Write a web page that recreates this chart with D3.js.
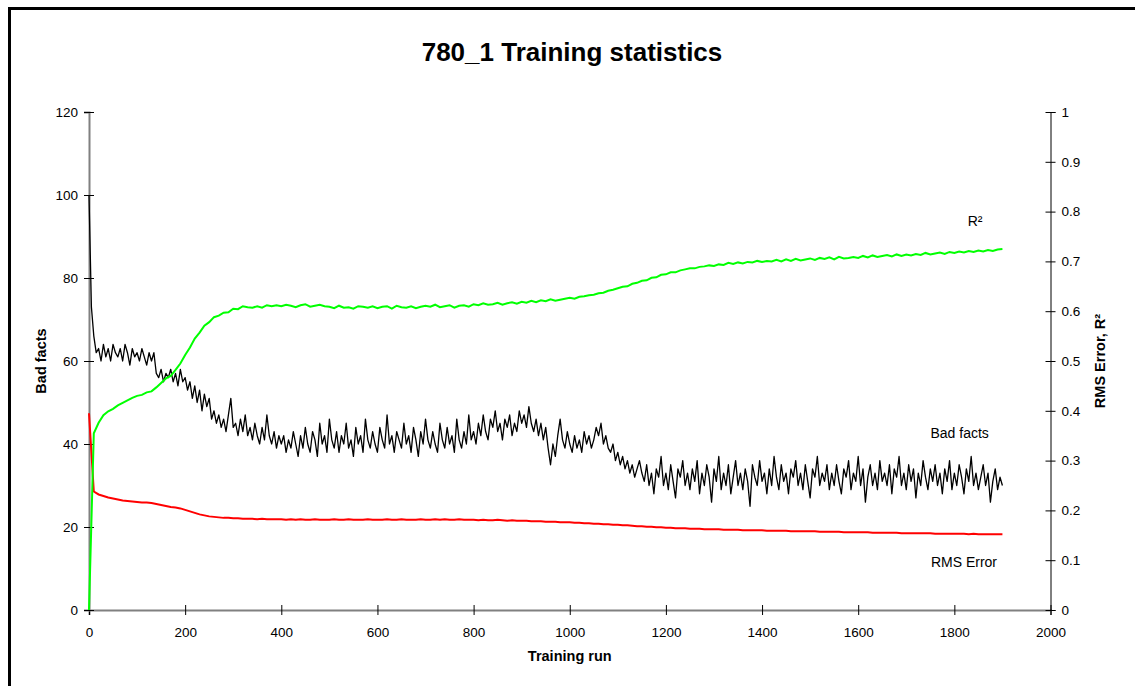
<!DOCTYPE html>
<html>
<head>
<meta charset="utf-8">
<title>780_1 Training statistics</title>
<script src="https://cdn.jsdelivr.net/npm/d3@7"></script>
<style>
    body { margin: 0; background: #fff; }
    svg { display: block; font-family: "Liberation Sans", Arial, sans-serif; }
</style>
</head>
<body>
<div id="chart-area"></div>
<script>
/*
*    780_1 training statistics
*    bad facts on the left axis, RMS error and R² on the right
*/

// bad facts, one value every 5th training run (0 .. 1900)
var badFactsStep = 5;
var badFacts = [
    100,73,66,62,63,60,64,61,63,60,64,62,61,63,60,64,62,59,63,61,62,60,63,61,59,62,60,62,
    57,56,58,55,57,56,58,55,57,54,58,55,56,
    53,55,51,54,50,53,48,52,49,51,46,48,
    45,47,44,46,43,47,51,44,45,42,46,43,47,42,44,41,45,42,40,44,41,47,42,40,43,39,42,40,
    42,38,41,39,43,40,37,42,39,44,40,38,43,41,37,45,40,42,38,46,
    41,39,43,38,42,40,45,39,41,37,44,40,42,38,46,41,39,43,40,38,
    44,41,39,47,40,42,38,43,41,39,45,40,42,38,44,41,37,43,40,46,
    41,39,43,40,38,45,41,39,44,40,42,38,46,41,39,43,40,47,41,43,
    40,45,42,47,43,41,46,44,48,43,45,41,46,44,47,42,45,43,48,45,47,44,49,45,43,46,42,45,41,44,
    39,35,40,37,42,46,41,39,43,40,38,42,39,41,38,43,40,42,39,41,44,42,45,40,42,39,38,40,36,38,
    35,37,34,36,33,35,32,34,36,33,
    31,35,30,33,28,34,32,37,30,33,29,35,31,27,34,32,36,30,33,29,
    34,31,36,28,33,30,35,32,26,34,31,37,29,33,30,35,28,32,36,30,
    33,29,34,31,25,35,32,30,36,31,33,28,34,30,37,32,29,35,31,33,
    28,34,32,36,30,33,29,35,31,27,34,32,37,30,33,31,35,29,33,30,
    35,31,28,34,32,36,29,33,31,37,30,34,26,32,35,30,33,29,36,31,
    33,30,35,28,34,32,37,30,33,29,35,31,34,27,33,30,36,32,29,34,
    31,35,30,33,28,34,31,36,29,33,30,35,32,28,34,31,37,30,33,29,
    32,35,30,33,26,31,34,29,32,30
];

// R² and RMS error, one value every 10th training run (0 .. 1900)
var fitStep = 10;
var rSquared = [
    0,.355,.376,.391,.399,.404,.411,.416,.421,.426,
    .430,.432,.437,.439,.447,.456,.465,.470,.482,.495,
    .512,.527,.545,.557,.571,.578,.588,.591,.597,.598,
    .605,.604,.610,.608,.607,.610,.607,.612,.610,.612,
    .610,.613,.611,.608,.612,.614,.609,.611,.613,.610,
    .609,.606,.611,.607,.608,.605,.610,.609,.607,.610,
    .606,.609,.610,.605,.611,.608,.607,.610,.606,.609,
    .611,.609,.613,.608,.610,.612,.607,.611,.612,.609,
    .614,.612,.616,.613,.614,.617,.613,.616,.618,.615,
    .619,.617,.621,.618,.622,.620,.624,.621,.623,.625,
    .627,.625,.629,.630,.632,.633,.636,.637,.641,.643,
    .646,.649,.650,.655,.657,.661,.662,.667,.668,.673,
    .674,.678,.678,.682,.684,.686,.686,.689,.690,.692,
    .691,.694,.693,.697,.695,.698,.696,.699,.698,.701,
    .699,.701,.700,.703,.700,.704,.701,.705,.702,.704,
    .706,.703,.707,.705,.708,.704,.709,.706,.707,.709,
    .707,.711,.708,.712,.709,.711,.713,.710,.714,.711,
    .714,.712,.715,.713,.717,.714,.716,.718,.715,.719,
    .717,.720,.718,.721,.719,.722,.720,.723,.721,.724,
    .725
];
var rmsError = [
    .395,.238,.232,.229,.226,.224,.222,.220,.219,.218,
    .217,.216,.216,.215,.213,.211,.209,.207,.206,.204,
    .201,.198,.195,.192,.190,.188,.187,.186,.185,.185,
    .184,.184,.183,.183,.183,.182,.183,.182,.182,.182,
    .182,.181,.182,.181,.182,.181,.181,.182,.181,.181,
    .181,.182,.181,.181,.182,.181,.181,.181,.182,.181,
    .181,.181,.182,.181,.181,.182,.181,.181,.181,.182,
    .181,.181,.182,.181,.182,.181,.181,.182,.181,.181,
    .181,.180,.181,.180,.180,.181,.180,.179,.180,.179,
    .179,.179,.178,.178,.178,.177,.177,.177,.176,.176,
    .176,.175,.175,.174,.174,.173,.173,.172,.172,.171,
    .171,.170,.170,.169,.168,.168,.167,.167,.166,.166,
    .165,.165,.164,.164,.164,.163,.163,.163,.162,.162,
    .162,.162,.161,.161,.161,.161,.160,.160,.160,.160,
    .160,.159,.159,.159,.159,.159,.158,.158,.158,.158,
    .158,.158,.157,.157,.157,.157,.157,.156,.156,.156,
    .156,.156,.156,.155,.155,.155,.155,.155,.155,.154,
    .154,.154,.154,.154,.154,.154,.153,.153,.153,.153,
    .153,.153,.153,.152,.153,.152,.152,.152,.152,.152,
    .152
];

var runTicks = [0,200,400,600,800,1000,1200,1400,1600,1800,2000];
var badFactsTicks = [0,20,40,60,80,100,120];
var fitTicks = [0,0.1,0.2,0.3,0.4,0.5,0.6,0.7,0.8,0.9,1];

// series name labels, placed in data units (run, value on its own axis)
var seriesLabels = [
    {text: "R²", run: 1843, value: 0.771, axis: "right"},
    {text: "Bad facts", run: 1811, value: 41.4, axis: "left"},
    {text: "RMS Error", run: 1820, value: 0.086, axis: "right"}
];

TrainingChart = function(_parentElement){
    this.parentElement = _parentElement;

    this.initVis();
};

TrainingChart.prototype.initVis = function(){
    var vis = this;

    vis.margin = {top: 112, right: 84.5, bottom: 76, left: 89};
    vis.width = 1135 - vis.margin.left - vis.margin.right;
    vis.height = 686 - vis.margin.top - vis.margin.bottom;

    vis.svg = d3.select(vis.parentElement).append("svg")
        .attr("width", 1135)
        .attr("height", 686);

    // chart frame (runs off the right and bottom of the picture)
    vis.svg.append("rect")
        .attr("x", 9.5)
        .attr("y", 8.5)
        .attr("width", 1300)
        .attr("height", 900)
        .attr("fill", "none")
        .attr("stroke", "#000")
        .attr("stroke-width", 3);

    vis.svg.append("text")
        .attr("x", 572)
        .attr("y", 61)
        .attr("text-anchor", "middle")
        .attr("font-size", 26)
        .attr("font-weight", "bold")
        .text("780_1 Training statistics");

    vis.g = vis.svg.append("g")
        .attr("transform", "translate(" + vis.margin.left + "," + vis.margin.top + ")");

    vis.x = d3.scaleLinear()
        .domain([0, 2000])
        .range([0, vis.width]);

    vis.yLeft = d3.scaleLinear()
        .domain([0, 120])
        .range([vis.height, 0]);

    vis.yRight = d3.scaleLinear()
        .domain([0, 1])
        .range([vis.height, 0]);

    vis.xAxis = vis.g.append("g")
        .attr("class", "x axis")
        .attr("transform", "translate(0," + vis.height + ")")
        .call(d3.axisBottom(vis.x).tickValues(runTicks).tickFormat(d3.format("d"))
            .tickSizeOuter(0).tickSize(5).tickPadding(12));

    vis.leftAxis = vis.g.append("g")
        .attr("class", "y axis")
        .call(d3.axisLeft(vis.yLeft).tickValues(badFactsTicks).tickSizeOuter(0).tickSize(5).tickPadding(6));

    vis.rightAxis = vis.g.append("g")
        .attr("class", "y axis")
        .attr("transform", "translate(" + vis.width + ",0)")
        .call(d3.axisRight(vis.yRight).tickValues(fitTicks).tickFormat(d3.format("~g"))
            .tickSizeOuter(0).tickSize(5).tickPadding(6));

    // excel style: ticks cross the axis line
    vis.xAxis.selectAll(".tick line").attr("y1", -5).attr("y2", 5);
    vis.leftAxis.selectAll(".tick line").attr("x1", -5).attr("x2", 5);
    vis.rightAxis.selectAll(".tick line").attr("x1", -5).attr("x2", 5);

    [vis.xAxis, vis.leftAxis, vis.rightAxis].forEach(function(a){
        a.attr("font-family", null).attr("font-size", 13.5);
        a.selectAll(".tick line").attr("stroke", "#000");
        a.selectAll("text").attr("fill", "#000");
    });
    vis.xAxis.select(".domain").attr("stroke", "#808080").attr("stroke-width", 2);
    vis.leftAxis.select(".domain").attr("stroke", "#808080").attr("stroke-width", 2);
    vis.rightAxis.select(".domain").attr("stroke", "#000").attr("stroke-width", 1);

    // axis titles
    vis.g.append("text")
        .attr("x", vis.width / 2)
        .attr("y", vis.height + 51)
        .attr("text-anchor", "middle")
        .attr("font-size", 14.5)
        .attr("font-weight", "bold")
        .text("Training run");

    vis.g.append("text")
        .attr("transform", "translate(" + (-43) + "," + (vis.height / 2) + ") rotate(-90)")
        .attr("text-anchor", "middle")
        .attr("font-size", 14.5)
        .attr("font-weight", "bold")
        .text("Bad facts");

    vis.g.append("text")
        .attr("transform", "translate(" + (vis.width + 54) + "," + (vis.height / 2) + ") rotate(-90)")
        .attr("text-anchor", "middle")
        .attr("font-size", 14.5)
        .attr("font-weight", "bold")
        .text("RMS Error, R²");

    vis.wrangleData();
};

TrainingChart.prototype.wrangleData = function(){
    var vis = this;

    vis.badData = badFacts.map(function(v, i){ return {run: i * badFactsStep, value: v}; });
    vis.r2Data = rSquared.map(function(v, i){ return {run: i * fitStep, value: v}; });
    vis.rmsData = rmsError.map(function(v, i){ return {run: i * fitStep, value: v}; });

    vis.updateVis();
};

TrainingChart.prototype.updateVis = function(){
    var vis = this;

    vis.lineLeft = d3.line()
        .x(function(d) { return vis.x(d.run); })
        .y(function(d) { return vis.yLeft(d.value); });

    vis.lineRight = d3.line()
        .x(function(d) { return vis.x(d.run); })
        .y(function(d) { return vis.yRight(d.value); });

    vis.g.append("path")
        .datum(vis.badData)
        .attr("fill", "none")
        .attr("stroke", "#000")
        .attr("stroke-width", 1.3)
        .attr("stroke-linejoin", "round")
        .attr("d", vis.lineLeft);

    vis.g.append("path")
        .datum(vis.rmsData)
        .attr("fill", "none")
        .attr("stroke", "#ff0000")
        .attr("stroke-width", 2)
        .attr("d", vis.lineRight);

    vis.g.append("path")
        .datum(vis.r2Data)
        .attr("fill", "none")
        .attr("stroke", "#00ff00")
        .attr("stroke-width", 2)
        .attr("d", vis.lineRight);

    vis.g.selectAll(".series-label")
        .data(seriesLabels)
        .enter().append("text")
        .attr("class", "series-label")
        .attr("x", function(d) { return vis.x(d.run); })
        .attr("y", function(d) { return d.axis === "left" ? vis.yLeft(d.value) : vis.yRight(d.value); })
        .attr("text-anchor", "middle")
        .attr("font-size", 14)
        .text(function(d) { return d.text; });
};

var chart = new TrainingChart("#chart-area");
</script>
</body>
</html>
